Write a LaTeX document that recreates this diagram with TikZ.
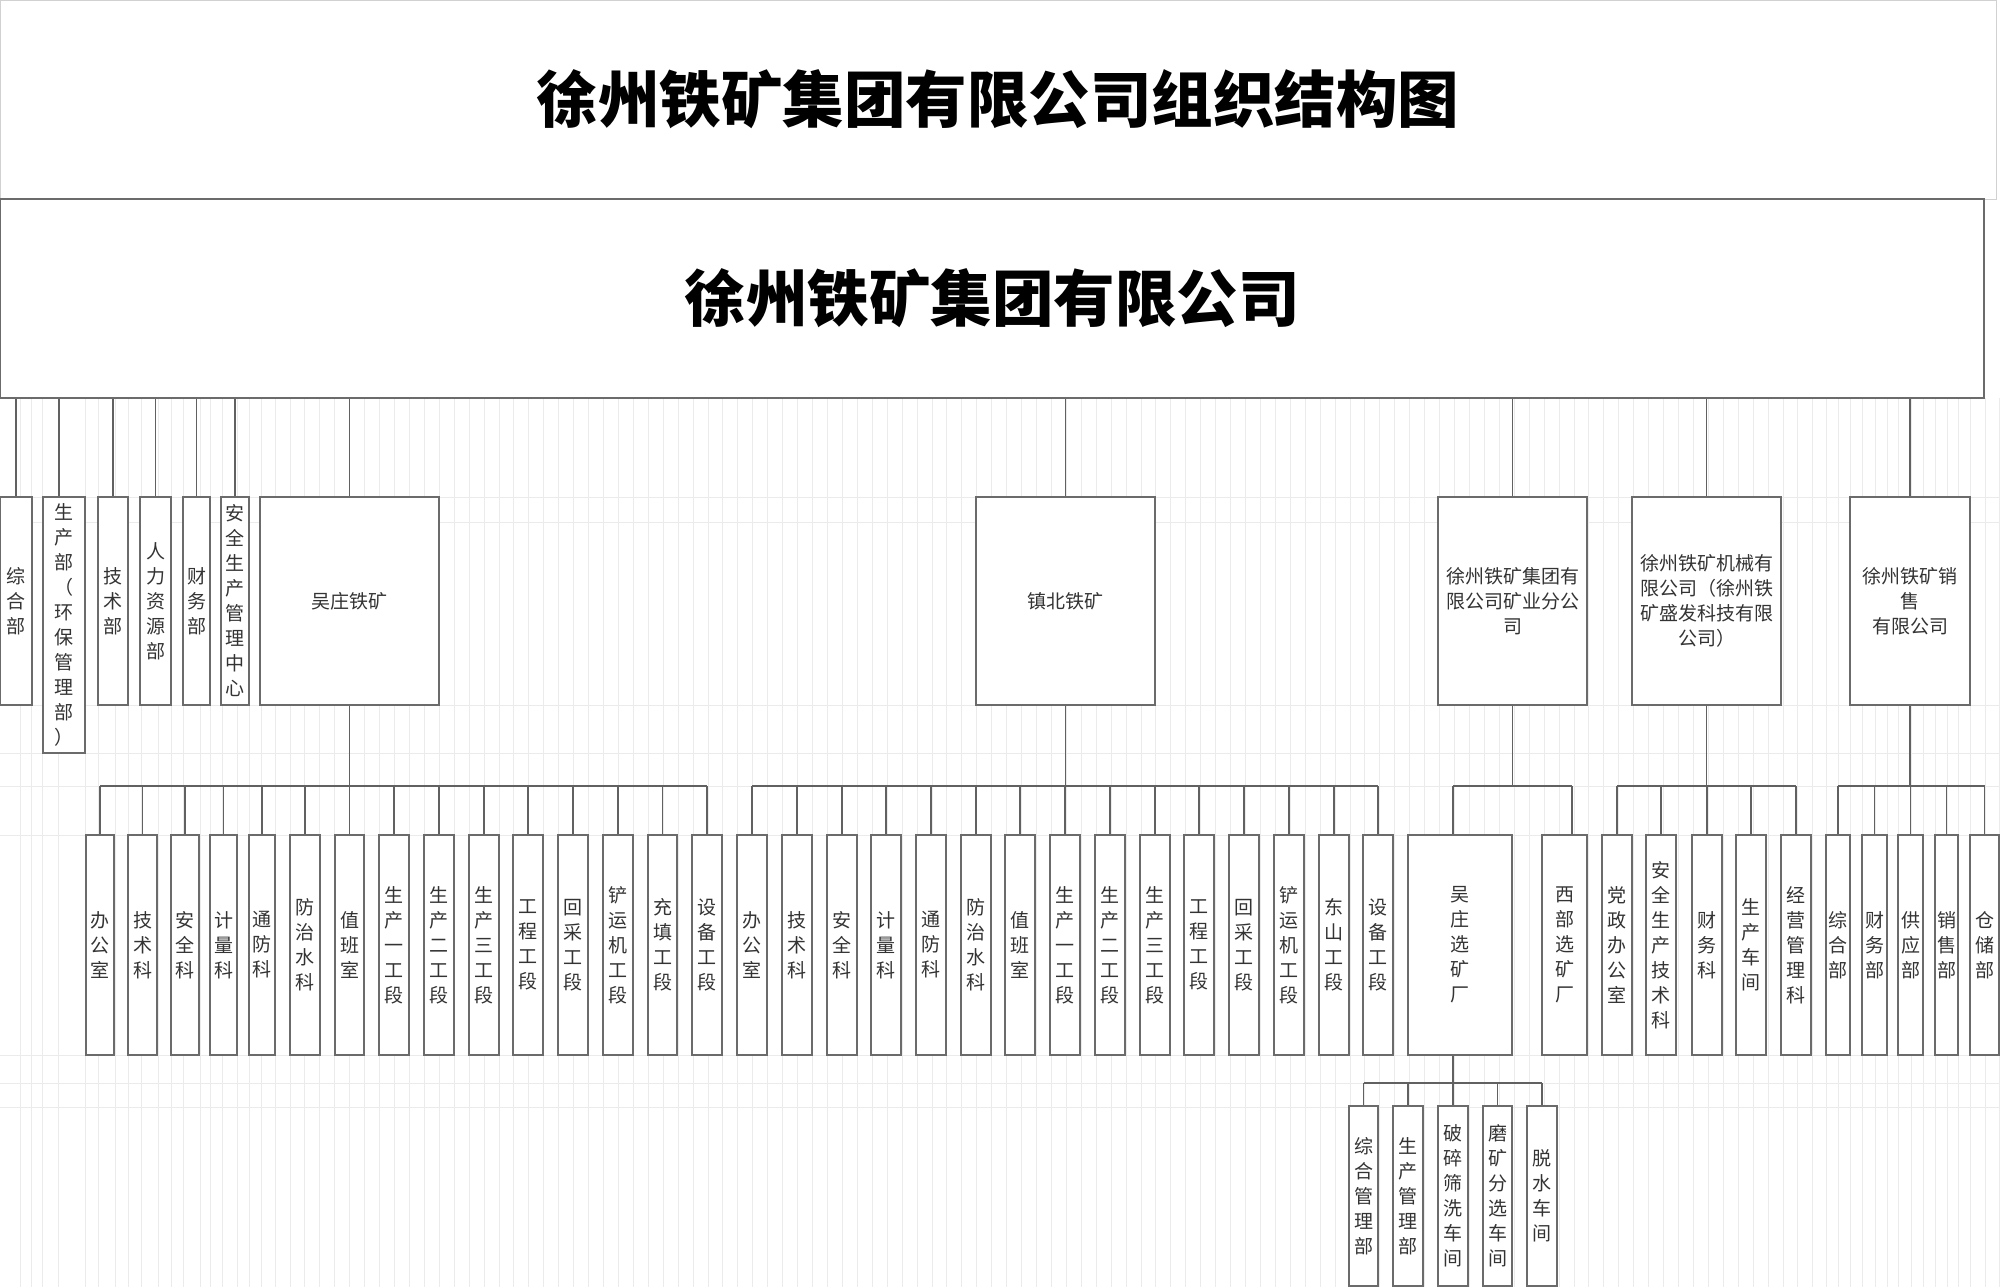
\documentclass[tikz,border=0pt]{standalone}
\usepackage{fontspec}
\setmainfont{Noto Sans CJK SC}
\usetikzlibrary{calc}
\tikzset{
  bx/.style={draw=black!58, line width=0.7pt, fill=white, inner sep=0pt, align=center,
    text=black!80, font=\fontsize{9.5pt}{12.5pt}\selectfont},
  ln/.style={draw=black!62, line width=0.7pt},
  gridln/.style={draw=black!8, line width=0.5pt},
  bigtxt/.style={font=\fontsize{30.75pt}{36pt}\selectfont\bfseries, text=black},
}
\newcommand\obox[6]{\node[bx, minimum width={(#3-#2)*0.5pt}, minimum height={(#5-#4)*0.5pt}] (#1) at ({(#2+#3)/2},{(#4+#5)/2}) {#6};}
\begin{document}
\begin{tikzpicture}[x=0.5pt,y=-0.5pt]
\useasboundingbox (0,0) rectangle (2000,1287);
\fill[white] (0,0) rectangle (2000,1287);
% background sheet grid
\foreach \gx in {20,31,42,58,85,98,115,128,141,158,171,183,200,210,222,237,249,261,275}
  \draw[gridln] (\gx,398) -- (\gx,1287);
\foreach \k in {0,...,102}
  \draw[gridln] ({290+14.93*\k},398) -- ({290+14.93*\k},1287);
\foreach \gx in {1826,1838,1850,1862,1875,1887,1898,1911,1923,1935,1947,1958,1970,1985,1999}
  \draw[gridln] (\gx,398) -- (\gx,1287);
\foreach \gy in {497,522,705,753,786,835,1055,1083,1107}
  \draw[gridln] (0,\gy) -- (2000,\gy);

% title
\node[draw=black!18, line width=0.5pt, inner sep=0pt, minimum width=998pt, minimum height=99.5pt, bigtxt] (ttl) at (998,99.5) {徐州铁矿集团有限公司组织结构图};
% company
\node[bx, bigtxt, minimum width=992pt, minimum height=99.5pt] (top) at (992,298.5) {徐州铁矿集团有限公司};

% level 1
\obox{a1}{0}{32}{497}{705}{综\\合\\部}
\obox{a2}{43}{85}{497}{753}{生\\产\\部\\（\\环\\保\\管\\理\\部\\）}
\obox{a3}{98}{128}{497}{705}{技\\术\\部}
\obox{a4}{140}{171}{497}{705}{人\\力\\资\\源\\部}
\obox{a5}{183}{210}{497}{705}{财\\务\\部}
\obox{a6}{221}{249}{497}{705}{安\\全\\生\\产\\管\\理\\中\\心}
\obox{a7}{260}{439}{497}{705}{吴庄铁矿}
\obox{a8}{976}{1155}{497}{705}{镇北铁矿}
\obox{a9}{1438}{1587}{497}{705}{徐州铁矿集团有\\限公司矿业分公\\司}
\obox{a10}{1632}{1781}{497}{705}{徐州铁矿机械有\\限公司（徐州铁\\矿盛发科技有限\\公司）}
\obox{a11}{1850}{1970}{497}{705}{徐州铁矿销\\售\\有限公司}

% level 2 - Wuzhuang
\obox{w1}{86}{114}{835}{1055}{办\\公\\室}
\obox{w2}{128}{157}{835}{1055}{技\\术\\科}
\obox{w3}{171}{199}{835}{1055}{安\\全\\科}
\obox{w4}{210}{237}{835}{1055}{计\\量\\科}
\obox{w5}{249}{275}{835}{1055}{通\\防\\科}
\obox{w6}{290}{320}{835}{1055}{防\\治\\水\\科}
\obox{w7}{335}{364}{835}{1055}{值\\班\\室}
\obox{w8}{379}{409}{835}{1055}{生\\产\\一\\工\\段}
\obox{w9}{424}{454}{835}{1055}{生\\产\\二\\工\\段}
\obox{w10}{469}{499}{835}{1055}{生\\产\\三\\工\\段}
\obox{w11}{513}{543}{835}{1055}{工\\程\\工\\段}
\obox{w12}{558}{588}{835}{1055}{回\\采\\工\\段}
\obox{w13}{603}{633}{835}{1055}{铲\\运\\机\\工\\段}
\obox{w14}{648}{677}{835}{1055}{充\\填\\工\\段}
\obox{w15}{692}{722}{835}{1055}{设\\备\\工\\段}
% level 2 - Zhenbei
\obox{z1}{737}{767}{835}{1055}{办\\公\\室}
\obox{z2}{782}{812}{835}{1055}{技\\术\\科}
\obox{z3}{827}{857}{835}{1055}{安\\全\\科}
\obox{z4}{871}{901}{835}{1055}{计\\量\\科}
\obox{z5}{916}{946}{835}{1055}{通\\防\\科}
\obox{z6}{961}{991}{835}{1055}{防\\治\\水\\科}
\obox{z7}{1005}{1035}{835}{1055}{值\\班\\室}
\obox{z8}{1050}{1080}{835}{1055}{生\\产\\一\\工\\段}
\obox{z9}{1095}{1125}{835}{1055}{生\\产\\二\\工\\段}
\obox{z10}{1140}{1170}{835}{1055}{生\\产\\三\\工\\段}
\obox{z11}{1184}{1214}{835}{1055}{工\\程\\工\\段}
\obox{z12}{1229}{1259}{835}{1055}{回\\采\\工\\段}
\obox{z13}{1274}{1304}{835}{1055}{铲\\运\\机\\工\\段}
\obox{z14}{1319}{1349}{835}{1055}{东\\山\\工\\段}
\obox{z15}{1363}{1393}{835}{1055}{设\\备\\工\\段}
% level 2 - mining branch
\obox{m1}{1408}{1512}{835}{1055}{吴\\庄\\选\\矿\\厂}
\obox{m2}{1542}{1587}{835}{1055}{西\\部\\选\\矿\\厂}
% level 2 - machinery
\obox{j1}{1602}{1632}{835}{1055}{党\\政\\办\\公\\室}
\obox{j2}{1646}{1676}{835}{1055}{安\\全\\生\\产\\技\\术\\科}
\obox{j3}{1692}{1722}{835}{1055}{财\\务\\科}
\obox{j4}{1736}{1766}{835}{1055}{生\\产\\车\\间}
\obox{j5}{1781}{1811}{835}{1055}{经\\营\\管\\理\\科}
% level 2 - sales
\obox{s1}{1826}{1850}{835}{1055}{综\\合\\部}
\obox{s2}{1862}{1887}{835}{1055}{财\\务\\部}
\obox{s3}{1898}{1923}{835}{1055}{供\\应\\部}
\obox{s4}{1935}{1958}{835}{1055}{销\\售\\部}
\obox{s5}{1970}{1999}{835}{1055}{仓\\储\\部}
% level 3
\obox{x1}{1349}{1378}{1106}{1286}{综\\合\\管\\理\\部}
\obox{x2}{1393}{1423}{1106}{1286}{生\\产\\管\\理\\部}
\obox{x3}{1438}{1468}{1106}{1286}{破\\碎\\筛\\洗\\车\\间}
\obox{x4}{1483}{1512}{1106}{1286}{磨\\矿\\分\\选\\车\\间}
\obox{x5}{1527}{1557}{1106}{1286}{脱\\水\\车\\间}

% connectors: company -> level 1
\foreach \n in {a1,a3,a4,a5,a6,a7,a8,a9,a10,a11}
  \draw[ln] (\n.north) -- (\n.north |- top.south);
\draw[ln] ([xshift=-2.5pt]a2.north) -- ([xshift=-2.5pt]a2.north |- top.south);

% buses
\coordinate (busA) at (0,786);
\coordinate (busB) at (0,1083);
% Wuzhuang
\draw[ln] (a7.south) -- (a7.south |- busA);
\draw[ln] (w1.north |- busA) -- (w15.north |- busA);
\foreach \i in {1,...,15} \draw[ln] (w\i.north) -- (w\i.north |- busA);
% Zhenbei
\draw[ln] (a8.south) -- (a8.south |- busA);
\draw[ln] (z1.north |- busA) -- (z15.north |- busA);
\foreach \i in {1,...,15} \draw[ln] (z\i.north) -- (z\i.north |- busA);
% mining branch
\draw[ln] (a9.south) -- (a9.south |- busA);
\draw[ln] ([xshift=-3.5pt]m1.north |- busA) -- ([xshift=3.75pt]m2.north |- busA);
\draw[ln] ([xshift=-3.5pt]m1.north) -- ([xshift=-3.5pt]m1.north |- busA);
\draw[ln] ([xshift=3.75pt]m2.north) -- ([xshift=3.75pt]m2.north |- busA);
% machinery
\draw[ln] (a10.south) -- (a10.south |- busA);
\draw[ln] (j1.north |- busA) -- (j5.north |- busA);
\foreach \i in {1,...,5} \draw[ln] (j\i.north) -- (j\i.north |- busA);
% sales
\draw[ln] (a11.south) -- (a11.south |- busA);
\draw[ln] (s1.north |- busA) -- (s5.north |- busA);
\foreach \i in {1,...,5} \draw[ln] (s\i.north) -- (s\i.north |- busA);
% level 3 under Wuzhuang plant
\draw[ln] ([xshift=-3.5pt]m1.south) -- ([xshift=-3.5pt]m1.south |- busB);
\draw[ln] (x1.north |- busB) -- (x5.north |- busB);
\foreach \i in {1,...,5} \draw[ln] (x\i.north) -- (x\i.north |- busB);
\end{tikzpicture}
\end{document}
